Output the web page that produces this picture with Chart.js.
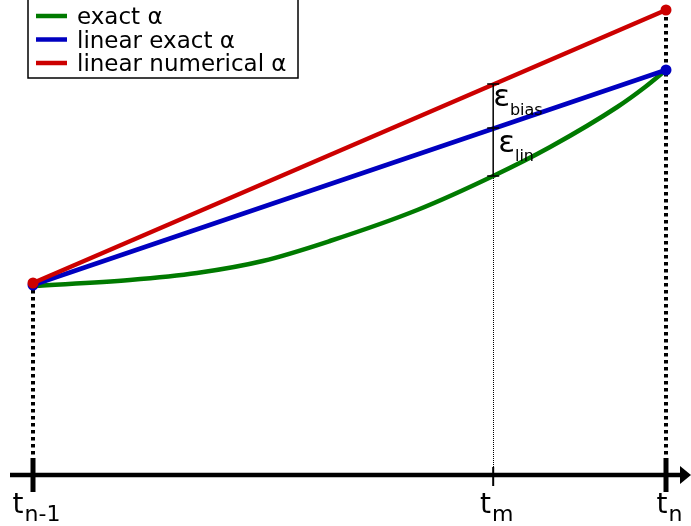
<!DOCTYPE html>
<html>
<head>
<meta charset="utf-8">
<script src="https://cdn.jsdelivr.net/npm/chart.js@4/dist/chart.umd.min.js"></script>
<style>
  html, body { margin: 0; padding: 0; background: #ffffff; }
  #wrap { width: 691px; height: 526px; position: relative; }
</style>
</head>
<body>
<div id="wrap"><canvas id="c"></canvas></div>
<script>
// Time axis on a unit interval: t_{n-1} = 0, t_n = 1
const tickPositions = [0, 0.727, 1];
const tickMain = ['t', 't', 't'];
const tickSub = ['n-1', 'm', 'n'];
const tickMajor = [true, false, true];

// exact alpha over the step
const exactT = [0, 0.153, 0.259, 0.363, 0.469, 0.607, 0.727, 0.817, 0.923, 0.967, 1];
const exactAlpha = [189, 195, 202, 214, 234, 265, 299, 328, 368, 388, 405];

// linear interpolation of the exact alpha
const linearExactT = [0, 1];
const linearExactAlpha = [190, 405];

// linear interpolation of the numerical alpha
const linearNumT = [0, 1];
const linearNumAlpha = [192, 465];

// levels at t_m: linear numerical, linear exact, exact
const errorLevels = [391, 347, 299];
const errorLabels = ['bias', 'lin'];

const seriesLabels = ['exact α', 'linear exact α', 'linear numerical α'];
const seriesColors = ['#007a00', '#0000c0', '#cc0000'];

const FONT = '"DejaVu Sans", "Liberation Sans", sans-serif';

const toPoints = (xs, ys) => xs.map((v, i) => ({ x: v, y: ys[i] }));

const sketch = {
  id: 'sketch',
  beforeDatasetsDraw(chart) {
    const { ctx, scales: { x, y } } = chart;
    const y0 = y.getPixelForValue(0);
    ctx.save();
    ctx.strokeStyle = '#000';

    // thick dotted guides at the step ends
    ctx.lineWidth = 4;
    ctx.setLineDash([3.5, 3.5]);
    [0, 1].forEach(i => {
      const px = x.getPixelForValue(linearNumT[i]);
      ctx.beginPath();
      ctx.moveTo(px, y.getPixelForValue(linearNumAlpha[i]));
      ctx.lineTo(px, y0);
      ctx.stroke();
    });

    // fine dotted guide at t_m
    ctx.lineWidth = 1;
    ctx.setLineDash([1, 1]);
    const pm = Math.round(x.getPixelForValue(tickPositions[1])) + 0.5;
    ctx.beginPath();
    ctx.moveTo(pm, Math.round(y.getPixelForValue(errorLevels[2])));
    ctx.lineTo(pm, y0);
    ctx.stroke();
    ctx.setLineDash([]);

    // time axis with arrow
    const right = chart.chartArea.right;
    ctx.lineWidth = 4.5;
    ctx.beginPath();
    ctx.moveTo(chart.chartArea.left + 10, y0);
    ctx.lineTo(right - 8, y0);
    ctx.stroke();
    ctx.fillStyle = '#000';
    ctx.beginPath();
    ctx.moveTo(right, y0);
    ctx.lineTo(right - 11, y0 - 9);
    ctx.lineTo(right - 11, y0 + 9);
    ctx.closePath();
    ctx.fill();

    // ticks and labels
    tickPositions.forEach((t, i) => {
      const px = x.getPixelForValue(t);
      ctx.lineWidth = tickMajor[i] ? 5 : 2;
      ctx.beginPath();
      if (tickMajor[i]) { ctx.moveTo(px, y0 - 17); ctx.lineTo(px, y0 + 17); }
      else { ctx.moveTo(px, y0 - 8); ctx.lineTo(px, y0 + 11); }
      ctx.stroke();

      ctx.font = '28px ' + FONT;
      const wMain = ctx.measureText(tickMain[i]).width;
      ctx.font = '22px ' + FONT;
      const wSub = ctx.measureText(tickSub[i]).width;
      const start = px + 3 - (wMain + wSub) / 2;
      ctx.textBaseline = 'alphabetic';
      ctx.textAlign = 'left';
      ctx.font = '28px ' + FONT;
      ctx.fillText(tickMain[i], start, y0 + 38);
      ctx.font = '22px ' + FONT;
      ctx.fillText(tickSub[i], start + wMain + 1, y0 + 46);
    });
    ctx.restore();
  },
  afterDatasetsDraw(chart) {
    const { ctx, scales: { x, y } } = chart;
    ctx.save();
    ctx.strokeStyle = '#000';
    ctx.fillStyle = '#000';

    // error bars at t_m
    const pm = x.getPixelForValue(tickPositions[1]);
    const levels = errorLevels.map(v => y.getPixelForValue(v));
    ctx.lineWidth = 1.5;
    ctx.beginPath();
    ctx.moveTo(pm, levels[0]);
    ctx.lineTo(pm, levels[2]);
    levels.forEach(py => { ctx.moveTo(pm - 6, py); ctx.lineTo(pm + 6, py); });
    ctx.stroke();

    // epsilon labels
    ctx.textAlign = 'left';
    ctx.textBaseline = 'alphabetic';
    errorLabels.forEach((lab, i) => {
      const mid = (levels[i] + levels[i + 1]) / 2;
      const ex = pm + (i === 0 ? 0 : 5);
      ctx.font = '31px ' + FONT;
      ctx.fillText('ε', ex, mid);
      const w = ctx.measureText('ε').width;
      ctx.font = '16px ' + FONT;
      ctx.fillText(lab, ex + w, mid + 9);
    });

    // legend
    ctx.fillStyle = '#ffffff';
    ctx.fillRect(28, -2, 270, 80);
    ctx.lineWidth = 1.5;
    ctx.strokeRect(28, -2, 270, 80);
    ctx.font = '23px ' + FONT;
    seriesLabels.forEach((lab, i) => {
      const ry = 16 + 23.5 * i;
      ctx.strokeStyle = seriesColors[i];
      ctx.lineWidth = 4.5;
      ctx.beginPath();
      ctx.moveTo(36, ry);
      ctx.lineTo(67, ry);
      ctx.stroke();
      ctx.fillStyle = '#000';
      ctx.fillText(lab, 77, ry + 8);
    });
    ctx.restore();
  }
};

new Chart(document.getElementById('c'), {
  type: 'line',
  data: {
    datasets: [
      {
        label: seriesLabels[0],
        data: toPoints(exactT, exactAlpha),
        borderColor: seriesColors[0],
        borderWidth: 4.5,
        pointRadius: 0,
        cubicInterpolationMode: 'monotone',
        clip: false,
        order: 3
      },
      {
        label: seriesLabels[1],
        data: toPoints(linearExactT, linearExactAlpha),
        borderColor: seriesColors[1],
        backgroundColor: seriesColors[1],
        pointBackgroundColor: seriesColors[1],
        pointBorderWidth: 0,
        borderWidth: 4.5,
        pointRadius: 5.5,
        clip: false,
        order: 2
      },
      {
        label: seriesLabels[2],
        data: toPoints(linearNumT, linearNumAlpha),
        borderColor: seriesColors[2],
        backgroundColor: seriesColors[2],
        pointBackgroundColor: seriesColors[2],
        pointBorderWidth: 0,
        borderWidth: 4.5,
        pointRadius: 5.5,
        clip: false,
        order: 1
      }
    ]
  },
  options: {
    responsive: true,
    maintainAspectRatio: false,
    animation: false,
    layout: { padding: 0, autoPadding: false },
    plugins: { legend: { display: false }, tooltip: { enabled: false } },
    events: [],
    scales: {
      x: { type: 'linear', display: false, min: -33 / 633, max: 658 / 633 },
      y: { type: 'linear', display: false, min: -51, max: 475 }
    }
  },
  plugins: [sketch]
});
</script>
</body>
</html>
